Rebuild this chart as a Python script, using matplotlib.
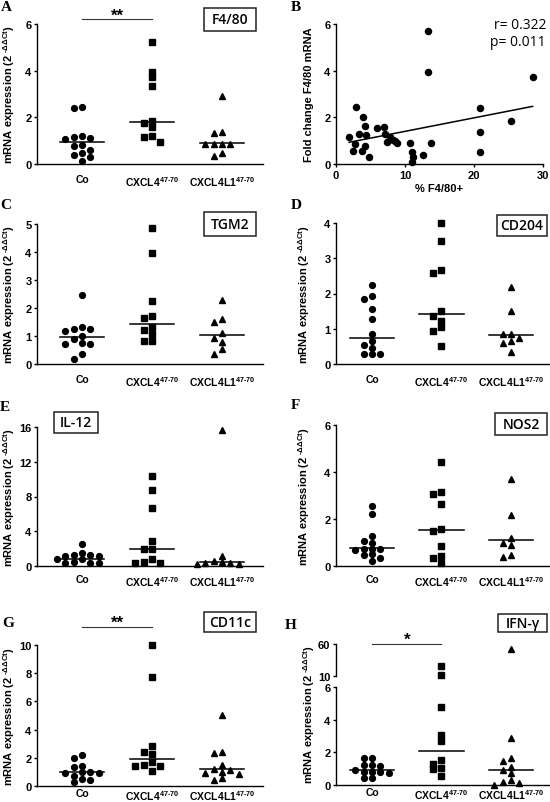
import numpy as np
import matplotlib.pyplot as plt
from matplotlib.patches import Rectangle

plt.rcParams['font.family'] = ['Liberation Sans', 'DejaVu Sans']
plt.rcParams['font.weight'] = 'bold'
plt.rcParams['mathtext.fontset'] = 'custom'
plt.rcParams['mathtext.rm'] = 'Liberation Sans:bold'
plt.rcParams['mathtext.it'] = 'Liberation Sans:bold'
plt.rcParams['mathtext.bf'] = 'Liberation Sans:bold'
plt.rcParams['mathtext.default'] = 'regular'
plt.rcParams['axes.linewidth'] = 1.0

W, H = 550, 803

groups = ['Co', r'CXCL4$^{\text{47-70}}$', r'CXCL4L1$^{\text{47-70}}$']
ylab = r'mRNA expression (2$^{\ \text{-ΔΔCt}}$)'

# A  F4/80
f480_co = [2.46, 2.40, 1.21, 1.17, 1.10, 1.07, 0.81, 0.79, 0.60, 0.47, 0.39, 0.29, 0.11]
f480_cxcl4 = [5.21, 3.96, 3.71, 3.36, 1.84, 1.76, 1.57, 1.19, 1.17, 0.96]
f480_l1 = [2.93, 1.39, 1.33, 0.87, 0.87, 0.87, 0.87, 0.47, 0.33]
f480_med = [0.93, 1.81, 0.90]

# B  correlation
b_pct = [1.87, 2.44, 2.82, 2.87, 3.35, 3.78, 3.92, 4.16, 4.26, 4.40, 4.74, 5.98,
         6.94, 7.03, 7.37, 7.89, 8.33, 8.56, 8.85, 10.72, 10.96, 10.96, 11.10,
         12.68, 13.35, 13.40, 13.73, 20.81, 20.90, 20.90, 25.30, 28.56]
b_fold = [1.14, 0.57, 0.86, 2.43, 1.29, 0.57, 2.00, 0.79, 1.61, 1.26, 0.31, 1.53,
          1.57, 1.29, 0.93, 1.14, 1.04, 0.97, 0.90, 0.90, 0.50, 0.10, 0.29,
          0.40, 5.69, 3.96, 0.90, 2.40, 1.36, 0.53, 1.86, 3.71]
b_fit_x = [1.9, 28.5]
b_fit_y = [0.93, 2.47]

# C  TGM2
tgm2_co = [2.46, 1.31, 1.25, 1.25, 1.17, 1.01, 0.89, 0.75, 0.71, 0.71, 0.35, 0.18]
tgm2_cxcl4 = [4.85, 3.96, 2.26, 1.70, 1.63, 1.31, 1.21, 1.07, 0.83, 0.83]
tgm2_l1 = [2.29, 1.61, 1.51, 1.11, 0.93, 0.80, 0.54, 0.35]
tgm2_med = [0.98, 1.43, 1.04]

# D  CD204
cd204_co = [2.23, 1.92, 1.83, 1.55, 1.28, 0.85, 0.64, 0.55, 0.45, 0.27, 0.27, 0.27]
cd204_cxcl4 = [4.01, 3.49, 2.67, 2.59, 1.50, 1.37, 1.23, 1.04, 0.93, 0.52]
cd204_l1 = [2.18, 1.50, 0.85, 0.85, 0.73, 0.64, 0.60, 0.33]
cd204_med = [0.75, 1.43, 0.82]

# E  IL-12
il12_co = [2.50, 1.50, 1.30, 1.30, 1.20, 1.20, 0.85, 0.80, 0.45, 0.40, 0.40, 0.35]
il12_cxcl4 = [10.4, 8.7, 6.7, 2.9, 1.95, 1.90, 0.80, 0.42, 0.40, 0.38]
il12_l1 = [15.7, 1.19, 0.55, 0.50, 0.30, 0.30, 0.28, 0.25]
il12_med = [0.80, 1.92, 0.48]

# F  NOS2
nos2_co = [2.55, 2.20, 1.28, 1.06, 0.99, 0.74, 0.72, 0.72, 0.70, 0.50, 0.45, 0.35, 0.21]
nos2_cxcl4 = [4.43, 3.16, 3.08, 2.62, 1.56, 1.49, 0.85, 0.43, 0.35, 0.14]
nos2_l1 = [3.69, 2.16, 1.21, 1.00, 0.90, 0.45, 0.40]
nos2_med = [0.75, 1.52, 1.09]

# G  CD11c
cd11c_co = [2.20, 1.99, 1.39, 1.32, 0.98, 0.97, 0.95, 0.93, 0.72, 0.50, 0.45, 0.26]
cd11c_cxcl4 = [10.0, 7.7, 2.81, 2.43, 2.27, 1.68, 1.51, 1.44, 1.44, 1.09]
cd11c_l1 = [5.05, 2.39, 2.34, 1.49, 1.18, 1.10, 1.02, 0.90, 0.85, 0.60, 0.45]
cd11c_med = [0.97, 1.91, 1.18]

# H  IFN-gamma (broken axis)
ifng_co = [1.67, 1.63, 1.22, 1.20, 1.18, 0.93, 0.80, 0.80, 0.78, 0.76, 0.45, 0.41]
ifng_cxcl4 = [25.0, 11.0, 4.8, 3.05, 2.68, 1.55, 1.30, 1.03, 0.95, 0.54]
ifng_l1 = [52.0, 2.9, 1.67, 1.50, 1.09, 0.89, 0.74, 0.33, 0.20, 0.12, 0.0]
ifng_med = [0.93, 2.10, 0.93]

markers = ['o', 's', '^']
msizes = [4.2, 3.8, 4.6]
xlim_left = (-0.643, 2.586)
xlim_right = (-0.518, 2.547)

fig = plt.figure(figsize=(W / 100, H / 100), dpi=100)


def add_ax(x0, y0, x1, y1):
    ax = fig.add_axes([x0 / W, 1 - y1 / H, (x1 - x0) / W, (y1 - y0) / H])
    ax.spines['top'].set_visible(False)
    ax.spines['right'].set_visible(False)
    ax.tick_params(axis='y', length=2.5, width=1, pad=1.5, labelsize=8)
    return ax


def spread(ax, i, vals, step=8.3, gap=5.6):
    # simple column scatter layout in pixel space
    vals = np.asarray(vals, float)
    disp = ax.transData.transform(np.column_stack([np.full(len(vals), i), vals]))
    placed = []
    xs = np.empty(len(vals))
    for k in np.argsort(-vals, kind='stable'):
        x0, y = disp[k]
        for j in (0, -1, 1, -2, 2, -3, 3, -4, 4):
            x = x0 + j * step
            if all(abs(x - px) >= gap or abs(y - py) >= gap for px, py in placed):
                break
        placed.append((x, y))
        xs[k] = ax.transData.inverted().transform((x, y))[0]
    return xs


def draw_points(ax, i, vals):
    if len(vals) == 0:
        return
    xs = spread(ax, i, vals)
    ax.plot(xs, vals, ls='none', marker=markers[i], ms=msizes[i],
            color='black', clip_on=False)


def column_panel(box, sets, medians, ylim, yticks, xlim, labx, pad=7):
    ax = add_ax(*box)
    ax.set_xlim(xlim)
    ax.set_ylim(ylim)
    for i, vals in enumerate(sets):
        draw_points(ax, i, vals)
        ax.plot([i - 0.32, i + 0.32], [medians[i]] * 2, color='black', lw=1.1)
    ax.set_yticks(yticks)
    ax.set_xticks(range(3))
    ax.set_xticklabels(groups, weight='bold')
    ax.tick_params(axis='x', length=0, pad=pad, labelsize=7.5)
    ax.set_ylabel(ylab, fontsize=8, weight='bold')
    ax.yaxis.set_label_coords(labx, 0.5)
    return ax


def sig_bar(ax, y, stars):
    ax.plot([0, 1], [y, y], color='#333333', lw=0.8, clip_on=False)
    ax.text(0.5, y, stars, ha='center', va='baseline', fontsize=12, clip_on=False)


def label_box(x0, y0, x1, y1, text):
    fig.add_artist(Rectangle((x0 / W, 1 - y1 / H), (x1 - x0) / W, (y1 - y0) / H,
                             transform=fig.transFigure, fc='white', ec='#222222', lw=1.1))
    fig.text((x0 + x1) / 2 / W, 1 - (y0 + y1) / 2 / H, text, ha='center', va='center',
             family=['Open Sans', 'DejaVu Sans'], fontsize=10, weight='semibold')


def letter(x, y, s):
    fig.text(x / W, 1 - y / H, s, ha='left', va='top', fontsize=11,
             family=['Liberation Serif', 'DejaVu Serif'], weight='bold')


# A
ax_a = column_panel((37, 25, 263, 165), [f480_co, f480_cxcl4, f480_l1], f480_med,
                    (0, 6), [0, 2, 4, 6], xlim_left, -0.088)
sig_bar(ax_a, 6.2, '**')
label_box(204, 9, 256, 32, 'F4/80')
letter(1, 1, 'A')

# B
ax_b = add_ax(336, 25, 543, 165)
ax_b.plot(b_pct, b_fold, ls='none', marker='o', ms=4.4, color='black', clip_on=False)
ax_b.plot(b_fit_x, b_fit_y, color='black', lw=1.1)
ax_b.set_xlim(0, 30)
ax_b.set_ylim(0, 6)
ax_b.set_xticks([0, 10, 20, 30])
ax_b.set_yticks([0, 2, 4, 6])
ax_b.tick_params(axis='x', length=2.5, width=1, pad=2, labelsize=8)
ax_b.set_xlabel('% F4/80+', fontsize=8, weight='bold', labelpad=2)
ax_b.set_ylabel('Fold change F4/80 mRNA', fontsize=8, weight='bold')
ax_b.yaxis.set_label_coords(-0.105, 0.5)
fig.text(546 / W, 1 - 25.5 / H, 'r= 0.322', ha='right', va='center', fontsize=10,
         family=['Open Sans', 'DejaVu Sans'], weight='normal')
fig.text(546 / W, 1 - 42.5 / H, 'p= 0.011', ha='right', va='center', fontsize=10,
         family=['Open Sans', 'DejaVu Sans'], weight='normal')
letter(291, 1, 'B')

# C
column_panel((37, 225, 263, 365), [tgm2_co, tgm2_cxcl4, tgm2_l1], tgm2_med,
             (0, 5), [0, 1, 2, 3, 4, 5], xlim_left, -0.088)
label_box(204, 213, 256, 237, 'TGM2')
letter(0, 199, 'C')

# D
column_panel((336, 224, 549, 365), [cd204_co, cd204_cxcl4, cd204_l1], cd204_med,
             (0, 4), [0, 1, 2, 3, 4], xlim_right, -0.113)
label_box(497, 216, 547, 237, 'CD204')
letter(291, 199, 'D')

# E
column_panel((37, 428, 263, 567), [il12_co, il12_cxcl4, il12_l1], il12_med,
             (0, 16), [0, 4, 8, 12, 16], xlim_left, -0.088, pad=6)
label_box(54, 413, 98, 434, 'IL-12')
letter(0, 401, 'E')

# F
column_panel((336, 426, 549, 567), [nos2_co, nos2_cxcl4, nos2_l1], nos2_med,
             (0, 6), [0, 2, 4, 6], xlim_right, -0.113, pad=6)
label_box(495, 414, 547, 436, 'NOS2')
letter(291, 399, 'F')

# G
ax_g = column_panel((37, 646, 263, 787), [cd11c_co, cd11c_cxcl4, cd11c_l1], cd11c_med,
                    (0, 10), [0, 2, 4, 6, 8, 10], xlim_left, -0.088, pad=1.5)
sig_bar(ax_g, 11.28, '**')
label_box(204, 613, 256, 633, 'CD11c')
letter(2, 617, 'G')

# H  broken y axis
ax_hu = add_ax(336, 645, 549, 677)
ax_hl = add_ax(336, 688, 549, 786)
ax_hu.spines['bottom'].set_visible(False)
for ax, lim in ((ax_hu, (10, 60)), (ax_hl, (0, 6))):
    ax.set_xlim(xlim_right)
    ax.set_ylim(lim)
ax_hu.set_yticks([10, 60])
ax_hl.set_yticks([0, 2, 4, 6])
ax_hu.set_xticks([])
for i, vals in enumerate([ifng_co, ifng_cxcl4, ifng_l1]):
    vals = np.asarray(vals)
    draw_points(ax_hu, i, vals[vals > 6])
    draw_points(ax_hl, i, vals[vals <= 6])
    ax_hl.plot([i - 0.32, i + 0.32], [ifng_med[i]] * 2, color='black', lw=1.1)
ax_hl.set_xticks(range(3))
ax_hl.set_xticklabels(groups, weight='bold')
ax_hl.tick_params(axis='x', length=0, pad=1.5, labelsize=7.5)
sig_bar(ax_hu, 60, '*')
fig.text(309 / W, 1 - 715 / H, ylab, rotation=90, ha='center', va='center',
         fontsize=8, weight='bold')
label_box(498, 615, 547, 633, 'IFN-γ')
letter(285, 619, 'H')

fig.savefig('out.png', dpi=100)
